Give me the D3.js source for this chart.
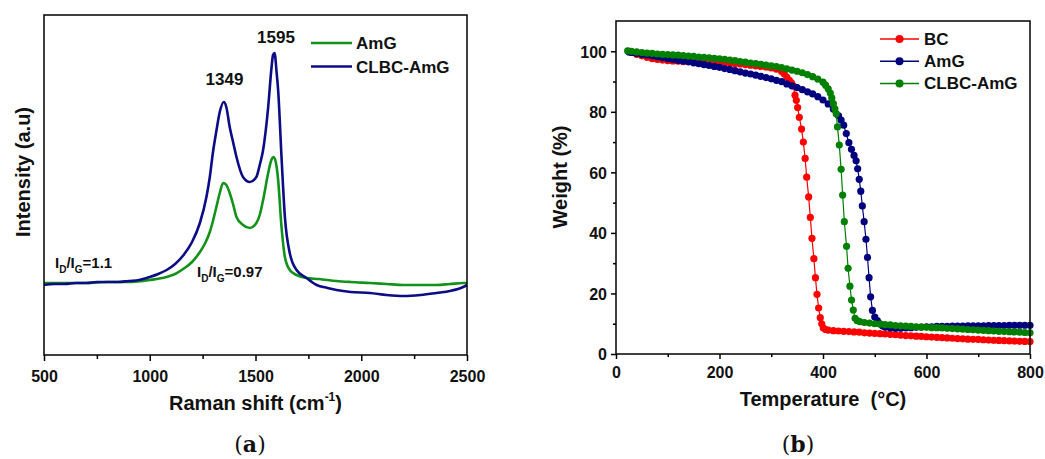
<!DOCTYPE html>
<html><head><meta charset="utf-8">
<script src="https://cdn.jsdelivr.net/npm/d3@7"></script>
<style>
body{margin:0;background:#fff;}
svg text{font-family:"Liberation Sans",Arial,sans-serif;font-weight:bold;fill:#111;}
</style></head><body>
<svg id="c" width="1045" height="459"></svg>
<script>
// ---------- Panel (a): Raman ----------
const ramanTicks = [500, 1000, 1500, 2000, 2500];
const ramanMinorTicks = [750, 1250, 1750, 2250];
const amgShift = [500,600,700,800,900,1000,1079,1120,1158,1200,1237,1260,1284,1300,1315,1331,1347,1362,1378,1395,1410,1441,1473,1504,1520,1536,1560,1575,1586,1600,1607,1623,1639,1662,1694,1741,1800,1883,1950,2041,2120,2199,2280,2356,2420,2482,2500];
const amgIntensity = [72,72,72,73,73,75,78,81,86,93,103,111,123,135,148,162,172,170,162,150,138,130,127,132,140,155,182,195,198,188,175,128,98,85,80,77,76,74,73,72,71,70,70,70,71,72,72];
const clbcShift = [500,550,600,650,700,750,800,850,900,950,1000,1040,1080,1120,1160,1200,1237,1268,1284,1299,1315,1331,1350,1362,1378,1395,1410,1441,1473,1504,1520,1536,1560,1576,1583,1590,1600,1607,1623,1639,1662,1694,1741,1789,1840,1883,1950,2041,2120,2199,2280,2356,2420,2482,2500];
const clbcIntensity = [70,71,71,72,72,73,73,73,74,75,78,81,85,91,100,113,132,158,178,203,224,243,253,248,228,212,198,178,173,178,190,205,248,288,300,302,282,265,198,138,102,85,77,70,67,65,63,62,60,59,60,62,64,68,70];
const ramanSeries = ["AmG", "CLBC-AmG"];
const ramanColors = ["#12921a", "#0c0c86"];

// ---------- Panel (b): TGA ----------
const tgaXTicks = [0, 200, 400, 600, 800];
const tgaXMinor = [100, 300, 500, 700];
const tgaYTicks = [0, 20, 40, 60, 80, 100];
const tgaYMinor = [10, 30, 50, 70, 90];
const bcTemp = [25,30,40,50,60,70,80,90,100,110,120,130,140,150,160,170,180,190,200,210,220,230,240,250,260,270,280,290,300,310,320,325,330,335,339,342.6,345.9,348.5,351,354.2,358.6,362,365.5,368.5,372.3,375.5,378.7,382.4,385.4,388.4,391.6,394.7,397.6,400.6,405,410,420,430,440,450,460,470,480,490,500,510,520,530,540,550,560,570,580,590,600,610,620,630,640,650,660,670,680,690,700,710,720,730,740,750,760,770,780,790,800];
const bcWeight = [100,99.6,99.0,98.5,98.0,97.6,97.3,97.1,96.9,96.8,96.7,96.6,96.6,96.6,96.6,96.6,96.5,96.5,96.4,96.3,96.2,96.0,95.8,95.6,95.4,95.2,95.0,94.8,94.5,94.1,93.3,92.6,91.5,90.4,89.6,88.6,85.5,83.8,81.4,78.2,74.3,70.0,64.6,58.4,51.9,45.1,38.2,31.5,25.2,19.7,15.2,12.0,10.0,8.6,8.1,7.9,7.7,7.6,7.5,7.4,7.3,7.2,7.0,6.9,6.8,6.7,6.6,6.5,6.4,6.2,6.1,6.0,5.9,5.8,5.7,5.6,5.5,5.4,5.3,5.2,5.1,5.0,4.9,4.85,4.8,4.7,4.6,4.55,4.5,4.4,4.35,4.3,4.2,4.15,4.1];
const amgTemp = [25,30,40,50,60,70,80,90,100,110,120,130,140,150,160,170,180,190,200,210,220,230,240,250,260,270,280,290,300,310,320,330,340,350,360,370,380,390,400,410,420,430,435,440,445,450,455,460,464,467,470,473,476,479.5,483,486,489,492,495.5,500,505,510,515,520,530,540,550,560,570,580,590,600,610,620,630,640,650,660,670,680,690,700,710,720,730,740,750,760,770,780,790,800];
const amgWeight = [99.8,99.6,99.3,99.0,98.8,98.5,98.2,97.9,97.6,97.3,97.0,96.8,96.5,96.2,95.9,95.6,95.3,95.0,94.7,94.3,94.0,93.6,93.2,92.8,92.5,92.1,91.7,91.3,90.9,90.4,90.0,89.2,88.6,88.0,87.3,86.6,85.9,85.0,83.9,82.6,80.9,78.7,77.3,75.6,72.8,69.8,67.6,65.6,63.8,61.2,57.7,53.8,48.9,43.7,37.9,31.9,25.2,18.9,14.4,12.2,11.0,10.0,9.3,8.9,8.6,8.5,8.5,8.6,8.7,8.8,8.9,9.0,9.0,9.1,9.1,9.1,9.2,9.2,9.2,9.3,9.3,9.3,9.3,9.4,9.4,9.4,9.4,9.5,9.5,9.5,9.5,9.5];
const clbcTemp = [22.5,30,40,50,60,70,80,90,100,110,120,130,140,150,160,170,180,190,200,210,220,230,240,250,260,270,280,290,300,310,320,330,340,350,360,370,380,390,400,405,410,414,417,420,423,425.5,428,431.5,435,438,441.2,445.5,448.5,452,455.2,458.5,462,466,471,480,490,500,510,520,530,540,550,560,570,580,590,600,610,620,630,640,650,660,670,680,690,700,710,720,730,740,750,760,770,780,790,800];
const clbcWeight = [100.1,100.0,99.8,99.6,99.4,99.3,99.1,99.0,98.9,98.8,98.7,98.6,98.4,98.3,98.1,98.0,97.8,97.7,97.5,97.3,97.1,96.9,96.6,96.4,96.1,95.9,95.7,95.4,95.2,94.9,94.6,94.2,93.8,93.4,92.9,92.3,91.6,90.8,89.8,88.8,87.6,86.2,84.6,82.7,81.0,79.4,75.0,69.0,61.0,52.5,43.7,35.6,28.3,22.4,17.8,14.5,11.8,11.0,10.7,10.4,10.2,10.0,9.9,9.7,9.6,9.4,9.3,9.2,9.1,9.0,8.9,8.8,8.7,8.7,8.6,8.5,8.4,8.3,8.2,8.1,8.0,7.9,7.8,7.7,7.6,7.5,7.4,7.35,7.3,7.2,7.1,7.0];
const tgaSeries = ["BC", "AmG", "CLBC-AmG"];
const tgaColors = ["#ff0000", "#00007f", "#008000"];

const svg = d3.select("#c");

function styleAxis(g){
  g.select(".domain").remove();
  g.selectAll(".tick line").attr("stroke","#000").attr("stroke-width",1.5);
}

// ===== Panel (a) =====
const xR = d3.scaleLinear().domain([500,2500]).range([44,467]);
const yR = d3.scaleLinear().domain([0,340]).range([355,15]);
const ga = svg.append("g");

const lineR = d3.line().x(d=>xR(d[0])).y(d=>yR(d[1])).curve(d3.curveMonotoneX);
const ramanData = [d3.zip(amgShift, amgIntensity), d3.zip(clbcShift, clbcIntensity)];
ramanData.forEach((dat,i)=>{
  ga.append("path").datum(dat).attr("d",lineR).attr("fill","none")
    .attr("stroke",ramanColors[i]).attr("stroke-width",2.6).attr("stroke-linejoin","round");
});

ga.append("rect").attr("x",44).attr("y",15).attr("width",423).attr("height",340)
  .attr("fill","none").attr("stroke","#000").attr("stroke-width",1.5);

const axA = ga.append("g").attr("transform","translate(0,355)")
  .call(d3.axisBottom(xR).tickValues(ramanTicks).tickSize(6).tickFormat(d3.format("d")));
styleAxis(axA);
axA.selectAll("text").attr("y",27).attr("dy",0).attr("font-size",16).attr("fill","#111")
  .style("font-family",'"Liberation Sans",Arial,sans-serif').style("font-weight","bold");
const axAm = ga.append("g").attr("transform","translate(0,355)")
  .call(d3.axisBottom(xR).tickValues(ramanMinorTicks).tickSize(4).tickFormat(""));
styleAxis(axAm);

// axis titles
const tx = ga.append("text").attr("x",255.5).attr("y",410).attr("text-anchor","middle").attr("font-size",20);
tx.append("tspan").text("Raman shift (cm");
tx.append("tspan").attr("font-size",12).attr("dy",-9).text("-1");
tx.append("tspan").attr("dy",9).text(")");
ga.append("text").attr("transform","translate(23,172) rotate(-90)").attr("text-anchor","middle")
  .attr("dy","0.35em").attr("font-size",20).text("Intensity (a.u)");

// peak labels
ga.append("text").attr("x",224.5).attr("y",85).attr("text-anchor","middle").attr("font-size",17).text("1349");
ga.append("text").attr("x",276).attr("y",43).attr("text-anchor","middle").attr("font-size",17).text("1595");

function ratioLabel(x,y,val){
  const t = ga.append("text").attr("x",x).attr("y",y).attr("font-size",15);
  t.append("tspan").text("I");
  t.append("tspan").attr("font-size",10).attr("dy",5).text("D");
  t.append("tspan").attr("dy",-5).text("/I");
  t.append("tspan").attr("font-size",10).attr("dy",5).text("G");
  t.append("tspan").attr("dy",-5).text("="+val);
}
ratioLabel(55,268,"1.1");
ratioLabel(197,277,"0.97");

// legend (a)
ramanSeries.forEach((s,i)=>{
  const y = 43 + i*23.5;
  ga.append("line").attr("x1",311).attr("x2",352).attr("y1",y).attr("y2",y)
    .attr("stroke",ramanColors[i]).attr("stroke-width",2.5);
  ga.append("text").attr("x",356).attr("y",y+6).attr("font-size",17).text(s);
});

// caption
const capA = ga.append("text").attr("x",250).attr("y",452).attr("text-anchor","middle")
  .attr("font-size",22).style("font-family",'"DejaVu Serif","Liberation Serif",serif').style("font-weight","normal");
capA.append("tspan").text("(");
capA.append("tspan").style("font-weight","bold").text("a");
capA.append("tspan").text(")");

// ===== Panel (b) =====
const xT = d3.scaleLinear().domain([0,800]).range([616,1030]);
const yT = d3.scaleLinear().domain([0,110]).range([354,21]);
const gb = svg.append("g");

const lineT = d3.line().x(d=>xT(d[0])).y(d=>yT(d[1]));
const tgaData = [d3.zip(bcTemp,bcWeight), d3.zip(amgTemp,amgWeight), d3.zip(clbcTemp,clbcWeight)];
tgaData.forEach((dat,i)=>{
  const g = gb.append("g");
  g.append("path").datum(dat).attr("d",lineT).attr("fill","none")
    .attr("stroke",tgaColors[i]).attr("stroke-width",1.2);
  g.selectAll("circle").data(dat).join("circle")
    .attr("cx",d=>xT(d[0])).attr("cy",d=>yT(d[1])).attr("r",3.6).attr("fill",tgaColors[i]);
});

gb.append("rect").attr("x",616).attr("y",21).attr("width",414).attr("height",333)
  .attr("fill","none").attr("stroke","#000").attr("stroke-width",1.5);

const axBx = gb.append("g").attr("transform","translate(0,354)")
  .call(d3.axisBottom(xT).tickValues(tgaXTicks).tickSize(5).tickFormat(d3.format("d")));
styleAxis(axBx);
axBx.selectAll("text").attr("y",24).attr("dy",0).attr("font-size",16).attr("fill","#111")
  .style("font-family",'"Liberation Sans",Arial,sans-serif').style("font-weight","bold");
const axBxm = gb.append("g").attr("transform","translate(0,354)")
  .call(d3.axisBottom(xT).tickValues(tgaXMinor).tickSize(3).tickFormat(""));
styleAxis(axBxm);

const axBy = gb.append("g").attr("transform","translate(616,0)")
  .call(d3.axisLeft(yT).tickValues(tgaYTicks).tickSize(5).tickFormat(d3.format("d")));
styleAxis(axBy);
axBy.selectAll("text").attr("x",-9).attr("dy","0.36em").attr("font-size",16).attr("fill","#111")
  .style("font-family",'"Liberation Sans",Arial,sans-serif').style("font-weight","bold");
const axBym = gb.append("g").attr("transform","translate(616,0)")
  .call(d3.axisLeft(yT).tickValues(tgaYMinor).tickSize(3).tickFormat(""));
styleAxis(axBym);

gb.append("text").attr("x",823).attr("y",406).attr("text-anchor","middle").attr("font-size",20)
  .style("white-space","pre").attr("xml:space","preserve").text("Temperature  (°C)");
gb.append("text").attr("transform","translate(560,177) rotate(-90)").attr("text-anchor","middle")
  .attr("dy","0.35em").attr("font-size",20).text("Weight (%)");

tgaSeries.forEach((s,i)=>{
  const y = 39 + i*22.2;
  gb.append("line").attr("x1",880).attr("x2",919).attr("y1",y).attr("y2",y)
    .attr("stroke",tgaColors[i]).attr("stroke-width",1.5);
  gb.append("circle").attr("cx",899.5).attr("cy",y).attr("r",4).attr("fill",tgaColors[i]);
  gb.append("text").attr("x",924).attr("y",y+6).attr("font-size",17).text(s);
});

const capB = gb.append("text").attr("x",798).attr("y",452).attr("text-anchor","middle")
  .attr("font-size",22).style("font-family",'"DejaVu Serif","Liberation Serif",serif').style("font-weight","normal");
capB.append("tspan").text("(");
capB.append("tspan").style("font-weight","bold").text("b");
capB.append("tspan").text(")");
</script></body></html>
